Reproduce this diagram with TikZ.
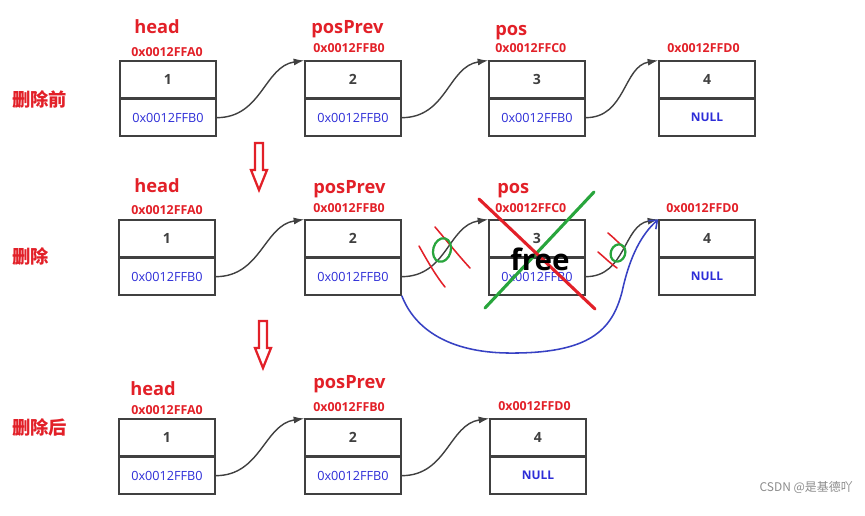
\documentclass[tikz,border=0pt]{standalone}
\usepackage{fontspec}
\setmainfont{Open Sans}
\newfontfamily\cjk{Noto Sans CJK SC}
\usepackage{xcolor}
\usetikzlibrary{positioning,arrows.meta}
\definecolor{labelred}{RGB}{226,32,40}
\definecolor{addrblue}{RGB}{45,45,215}
\definecolor{boxgray}{RGB}{64,64,64}
\definecolor{markgreen}{RGB}{40,165,60}
\definecolor{penblue}{RGB}{55,65,195}

\begin{document}
\begin{tikzpicture}[x=0.025cm, y=-0.025cm,
    cell/.style={draw=boxgray, line width=1.1pt, minimum width=2.4cm, minimum height=0.915cm, inner sep=0pt},
    num/.style={cell, font=\fontsize{10}{12}\selectfont\bfseries, text=boxgray},
    addr/.style={cell, font=\fontsize{9}{11}\selectfont, text=addrblue},
    nul/.style={cell, font=\fontsize{8.5}{10}\selectfont\bfseries, text=addrblue},
    ptr/.style={anchor=base west, inner sep=0pt, text=labelred, font=\fontsize{13}{15}\selectfont\bfseries},
    where/.style={anchor=base west, inner sep=0pt, text=labelred, font=\fontsize{8.8}{10}\selectfont\bfseries},
    step label/.style={anchor=west, inner sep=0pt, text=labelred, font=\fontsize{13}{15}\selectfont\cjk\bfseries},
    link/.style={draw=boxgray, line width=1pt, -{Latex[length=7.5pt,width=5pt]}},
    downarrow/.style={draw=labelred, line width=1.6pt, line join=miter},
    redpen/.style={draw=labelred, line width=1.1pt, line cap=round},
    greenpen/.style={draw=markgreen, line width=1.6pt},
    bigcross/.style={line width=2.2pt, line cap=round}
]
    \useasboundingbox (0,0) rectangle (865,515);

    % before deleting
    \node[step label] (lab1) at (12,100) {删除前};
    \node[num] (a1) at (168,79.5) {1};
    \node[addr, below=0pt of a1] (a1n) {0x0012FFB0};
    \node[num] (b1) at (353,79.5) {2};
    \node[addr, below=0pt of b1] (b1n) {0x0012FFB0};
    \node[num] (c1) at (537,79.5) {3};
    \node[addr, below=0pt of c1] (c1n) {0x0012FFB0};
    \node[num] (d1) at (707,79.5) {4};
    \node[nul, below=0pt of d1] (d1n) {NULL};

    \node[ptr] (head1) at (134,33) {head};
    \node[where] (wa1) at (131,56) {0x0012FFA0};
    \node[ptr] (prev1) at (311,33) {posPrev};
    \node[where] (wb1) at (313,52) {0x0012FFB0};
    \node[ptr] (pos1) at (495,35) {pos};
    \node[where] (wc1) at (495,52) {0x0012FFC0};
    \node[where] (wd1) at (667,52) {0x0012FFD0};

    \draw[link] (a1n.east) .. controls +(45,0) and +(-40,6) .. (b1.north west);
    \draw[link] (b1n.east) .. controls +(45,0) and +(-40,6) .. (c1.north west);
    \draw[link] (c1n.east) .. controls +(40,0) and +(-35,6) .. (d1.north west);

    \draw[downarrow] (255,143) -- (263,143) -- (263,170) -- (267,170) -- (259,190)
        -- (251,170) -- (255,170) -- cycle;

    % deleting
    \node[step label] (lab2) at (12,257) {删除};
    \node[num] (a2) at (167,238.5) {1};
    \node[addr, below=0pt of a2] (a2n) {0x0012FFB0};
    \node[num] (b2) at (353,238.5) {2};
    \node[addr, below=0pt of b2] (b2n) {0x0012FFB0};
    \node[num] (c2) at (537,238.5) {3};
    \node[addr, below=0pt of c2] (c2n) {0x0012FFB0};
    \node[num] (d2) at (707,238.5) {4};
    \node[nul, below=0pt of d2] (d2n) {NULL};

    \node[ptr] (head2) at (134,192) {head};
    \node[where] (wa2) at (131,214) {0x0012FFA0};
    \node[ptr] (prev2) at (313,193) {posPrev};
    \node[where] (wb2) at (313,212) {0x0012FFB0};
    \node[ptr] (pos2) at (497,193) {pos};
    \node[where] (wc2) at (495,212) {0x0012FFC0};
    \node[where] (wd2) at (666,212) {0x0012FFD0};

    \draw[link] (a2n.east) .. controls +(45,0) and +(-40,6) .. (b2.north west);
    \draw[link] (b2n.east) .. controls +(45,0) and +(-40,6) .. (c2.north west);
    \draw[link] (c2n.east) .. controls +(40,0) and +(-35,6) .. (d2.north west);

    % cut marks on the old links
    \draw[redpen] (419,246) .. controls (428,262) and (436,276) .. (445,287);
    \draw[redpen] (435,227) .. controls (447,241) and (458,255) .. (470,268);
    \draw[greenpen, rotate around={-15:(442,250)}] (442,250) ellipse [x radius=0.22cm, y radius=0.3cm];
    \draw[redpen] (598,252) .. controls (604,257) and (610,263) .. (617,268);
    \draw[redpen] (608,233) .. controls (614,238) and (619,243) .. (625,249);
    \draw[greenpen, rotate around={-20:(618,253)}] (618,253) ellipse [x radius=0.18cm, y radius=0.22cm];

    % node 3 crossed out
    \draw[bigcross, draw=markgreen] (485,308) -- (594,192);
    \draw[bigcross, draw=labelred] (479,199) -- (595,309);
    \node[anchor=base, inner sep=0pt, font=\fontsize{21}{24}\selectfont\bfseries] (free) at (540,270) {free};

    % new link drawn by hand
    \draw[draw=penblue, line width=1.1pt, -{Straight Barb[length=5pt,width=8pt]}]
        (b2n.south east) .. controls (415,330) and (450,352) .. (507,353)
        .. controls (590,354) and (612,330) .. (622,292)
        .. controls (630,255) and (642,234) .. (d2.north west);

    \draw[downarrow] (259,321) -- (267,321) -- (267,348) -- (271,348) -- (263,368)
        -- (255,348) -- (259,348) -- cycle;

    % after deleting
    \node[step label] (lab3) at (12,428) {删除后};
    \node[num] (a3) at (167,437.5) {1};
    \node[addr, below=0pt of a3] (a3n) {0x0012FFB0};
    \node[num] (b3) at (353,437.5) {2};
    \node[addr, below=0pt of b3] (b3n) {0x0012FFB0};
    \node[num] (d3) at (538,437.5) {4};
    \node[nul, below=0pt of d3] (d3n) {NULL};

    \node[ptr] (head3) at (130,395) {head};
    \node[where] (wa3) at (131,414) {0x0012FFA0};
    \node[ptr] (prev3) at (313,388) {posPrev};
    \node[where] (wb3) at (313,411) {0x0012FFB0};
    \node[where] (wd3) at (498,410) {0x0012FFD0};

    \draw[link] (a3n.east) .. controls +(45,0) and +(-40,6) .. (b3.north west);
    \draw[link] (b3n.east) .. controls +(45,0) and +(-40,6) .. (d3.north west);

    \node[anchor=base east, inner sep=0pt, text=black!45, font=\fontsize{8.5}{10}\selectfont\cjk] (mark) at (853,491) {CSDN @是基德吖};
\end{tikzpicture}
\end{document}
